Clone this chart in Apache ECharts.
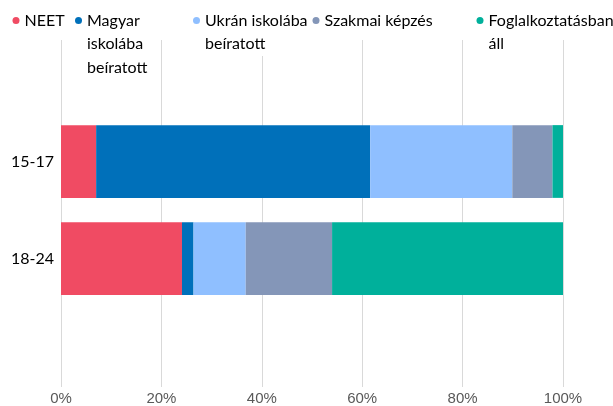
<!DOCTYPE html>
<html>
<head>
<meta charset="utf-8">
<script src="https://cdn.jsdelivr.net/npm/echarts@6/dist/echarts.min.js"></script>
<style>
  html, body { margin: 0; padding: 0; background: #fff; }
  #chart { width: 613px; height: 406px; }
</style>
</head>
<body>
<div id="chart"></div>
<script>
// korcsoportok
const categories = ["15-17", "18-24"];
// százalékos megoszlás
const neet = [7.0, 24.1];
const magyarIskola = [54.6, 2.3];
const ukranIskola = [28.3, 10.4];
const szakmaiKepzes = [8.0, 17.2];
const foglalkoztatott = [2.1, 46.0];
const seriesNames = [
  "NEET",
  "Magyar\niskolába\nbeíratott",
  "Ukrán iskolába\nbeíratott",
  "Szakmai képzés",
  "Foglalkoztatásban\náll"
];
const colors = ["#f04b63", "#0070ba", "#8fbfff", "#8496b8", "#00b09b"];

const chart = echarts.init(document.getElementById("chart"));

const legendFont = { fontFamily: "Lato", fontSize: 16, color: "#000", lineHeight: 24 };
// jelmagyarázat elemek bal széle
const legendLeft = [12.5, 75, 193, 312.5, 476.5];
const legendPadRight = [40, 45, 10, 40, 10];

function makeLegend(i) {
  return {
    data: [seriesNames[i]],
    left: legendLeft[i],
    top: 8.5,
    padding: [0, legendPadRight[i], 0, 0],
    backgroundColor: "#fff",
    icon: "circle",
    itemWidth: 7,
    itemHeight: 7,
    itemGap: 5,
    selectedMode: false,
    formatter: name => name.split("\n")[0],
    textStyle: legendFont
  };
}

// a többsoros jelmagyarázat folytatása
function legendRest(i) {
  const rest = seriesNames[i].split("\n").slice(1);
  if (!rest.length) return null;
  return {
    type: "text",
    x: legendLeft[i] + 12,
    y: 32,
    z: 100,
    style: {
      text: rest.join("\n"),
      fill: "#000",
      font: "16px Lato",
      lineHeight: 24,
      verticalAlign: "top",
      backgroundColor: "#fff",
      padding: [0, 10, 0, 0]
    }
  };
}

const data = [neet, magyarIskola, ukranIskola, szakmaiKepzes, foglalkoztatott];

chart.setOption({
  animation: false,
  color: colors,
  legend: seriesNames.map((_, i) => makeLegend(i)),
  graphic: seriesNames.map((_, i) => legendRest(i)).filter(g => g),
  grid: [
    { left: 61, right: 50, top: 113, height: 194 },
    { left: 61, right: 50, top: 40, bottom: 19 }
  ],
  xAxis: [
    { type: "value", gridIndex: 0, min: 0, max: 100, show: false },
    {
      type: "value",
      gridIndex: 1,
      min: 0,
      max: 100,
      interval: 20,
      axisLine: { show: false },
      axisTick: { show: false },
      splitLine: { lineStyle: { color: "#d9d9d9", width: 1 } },
      axisLabel: {
        formatter: "{value}%",
        margin: 4,
        color: "#595959",
        fontFamily: "Liberation Sans",
        fontSize: 15
      }
    }
  ],
  yAxis: [
    {
      type: "category",
      gridIndex: 0,
      data: categories,
      inverse: true,
      axisLine: { show: false },
      axisTick: { show: false },
      splitLine: { show: false },
      axisLabel: {
        margin: 7,
        color: "#000",
        fontFamily: "Lato",
        fontSize: 16
      }
    },
    { type: "value", gridIndex: 1, show: false, splitLine: { show: false } }
  ],
  series: seriesNames.map((name, i) => ({
    name: name,
    type: "bar",
    stack: "total",
    xAxisIndex: 0,
    yAxisIndex: 0,
    barCategoryGap: "25%",
    data: data[i]
  }))
});
</script>
</body>
</html>
